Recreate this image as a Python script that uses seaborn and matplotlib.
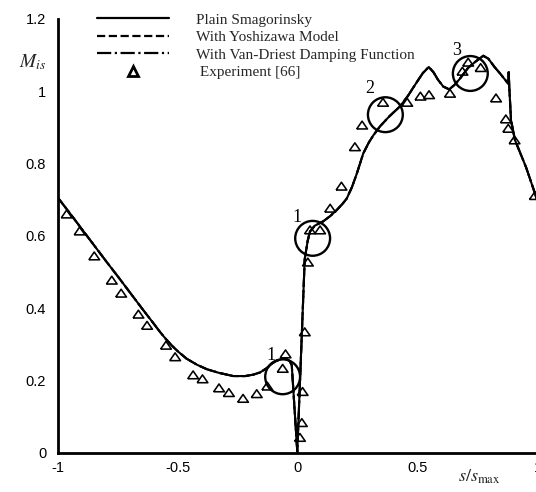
import matplotlib
matplotlib.use("Agg")
import matplotlib.pyplot as plt
import numpy as np
import pandas as pd
import seaborn as sns
from matplotlib.lines import Line2D

# ---- data ----
curve_s = [-1.0, -0.95, -0.9, -0.85, -0.8, -0.75, -0.7, -0.65, -0.6, -0.575, -0.55, -0.525,
           -0.5, -0.464, -0.42, -0.38, -0.33, -0.27, -0.22, -0.186, -0.158, -0.13, -0.11,
           -0.09, -0.07, -0.05, -0.035, -0.026, -0.003, 0.028, 0.04, 0.05, 0.07, 0.105,
           0.135, 0.161, 0.185, 0.203, 0.225, 0.245, 0.272, 0.295, 0.314, 0.342, 0.38,
           0.425, 0.458, 0.49, 0.52, 0.545, 0.565, 0.583, 0.605, 0.63, 0.653, 0.675, 0.708,
           0.738, 0.772, 0.793, 0.82, 0.842, 0.866, 0.876, 0.878, 0.880, 0.8875, 0.904,
           0.95, 0.9875, 1.0]
curve_m = [0.705, 0.662, 0.618, 0.574, 0.530, 0.487, 0.443, 0.399, 0.356, 0.334, 0.314, 0.296,
           0.280, 0.260, 0.243, 0.231, 0.221, 0.212, 0.212, 0.216, 0.222, 0.234, 0.246,
           0.254, 0.259, 0.260, 0.254, 0.242, 0.003, 0.535, 0.585, 0.612, 0.628, 0.640,
           0.655, 0.671, 0.688, 0.703, 0.735, 0.772, 0.828, 0.858, 0.878, 0.903, 0.930,
           0.958, 0.987, 1.020, 1.050, 1.067, 1.052, 1.032, 1.013, 1.005, 1.018, 1.035, 1.064,
           1.081, 1.098, 1.090, 1.066, 1.049, 1.029, 1.021, 1.053, 1.016, 0.920, 0.865,
           0.790, 0.717, 0.690]

exp_s = [-0.964, -0.910, -0.849, -0.776, -0.737, -0.665, -0.629, -0.550, -0.512, -0.437,
         -0.398, -0.329, -0.288, -0.229, -0.172, -0.128, -0.064, -0.052, 0.008, 0.016,
         0.019, 0.028, 0.041, 0.050, 0.092, 0.134, 0.181, 0.237, 0.267, 0.354, 0.455,
         0.510, 0.546, 0.633, 0.685, 0.709, 0.761, 0.825, 0.866, 0.876, 0.902, 0.987]
exp_m = [0.660, 0.613, 0.544, 0.477, 0.441, 0.383, 0.352, 0.297, 0.265, 0.215,
         0.204, 0.179, 0.166, 0.150, 0.163, 0.184, 0.233, 0.273, 0.042, 0.083,
         0.169, 0.334, 0.527, 0.616, 0.616, 0.676, 0.737, 0.846, 0.906, 0.969, 0.969,
         0.986, 0.990, 0.994, 1.055, 1.080, 1.065, 0.981, 0.923, 0.897, 0.865, 0.711]

legend_labels = ["Plain Smagorinsky", "With Yoshizawa Model",
                 "With Van-Driest Damping Function", " Experiment [66]"]
x_ticks = [-1, -0.5, 0, 0.5, 1]
x_ticklabels = ["-1", "-0.5", "0", "0.5", "1"]
y_ticks = [0, 0.2, 0.4, 0.6, 0.8, 1.0, 1.2]
y_ticklabels = ["0", "0.2", "0.4", "0.6", "0.8", "1", "1.2"]

circle_s = [-0.064, 0.061, 0.364, 0.718]
circle_m = [0.210, 0.593, 0.935, 1.049]
mark_text = ["1", "1", "2", "3"]
mark_s = [-0.114, -0.003, 0.297, 0.661]
mark_m = [0.270, 0.652, 1.007, 1.113]

# ---- style ----
sns.set_theme(style="white")
plt.rcParams["font.family"] = ["Liberation Sans", "DejaVu Sans"]
plt.rcParams["mathtext.fontset"] = "stix"
plt.rcParams["axes.unicode_minus"] = False

W, H = 536, 492
fig = plt.figure(figsize=(W / 100, H / 100), dpi=100)
ax = fig.add_axes([58 / W, 1 - 452.7 / H, 480 / W, (452.7 - 18.9) / H])

df = pd.DataFrame({"s": curve_s, "M": curve_m})
for ls in ["-", "--", "-."]:
    sns.lineplot(data=df, x="s", y="M", sort=False, estimator=None, color="black",
                 lw=1.5, ls=ls, ax=ax, legend=False, zorder=2)

tri = [(-1, -0.7), (1, -0.7), (0, 0.75), (-1, -0.7)]
sns.scatterplot(x=exp_s, y=exp_m, marker=tri, s=60, facecolor="none",
                edgecolor="black", linewidth=1.15, ax=ax, legend=False, zorder=3)

ax.scatter(circle_s, circle_m, s=630, facecolors="none", edgecolors="black",
           linewidths=1.7, zorder=4, clip_on=False)
for t, xs, ym in zip(mark_text, mark_s, mark_m):
    ax.text(xs, ym, t, fontsize=13, family="Liberation Serif", ha="center",
            va="center", color="black")

ax.set_xlim(-1, 1)
ax.set_ylim(0, 1.2)
ax.set_xticks(x_ticks)
ax.set_xticklabels(x_ticklabels)
ax.set_yticks(y_ticks)
ax.set_yticklabels(y_ticklabels)
ax.set_xlabel("")
ax.set_ylabel("")
for side in ["top", "right"]:
    ax.spines[side].set_visible(False)
for side in ["left", "bottom"]:
    ax.spines[side].set_linewidth(2.0)
    ax.spines[side].set_color("black")
ax.tick_params(direction="inout", length=9, width=1.8, labelsize=10.5,
               colors="black", pad=1.5)
ax.tick_params(axis="y", pad=4)

fig.text(33 / W, 1 - 62 / H, r"$M_{is}$", fontsize=14, ha="center", va="center")
fig.text(479 / W, 1 - 477 / H, r"$s/s_{\max}$", fontsize=13, ha="center", va="center")

handles = [Line2D([], [], color="black", lw=1.6, ls="-"),
           Line2D([], [], color="black", lw=1.6, ls="--"),
           Line2D([], [], color="black", lw=1.6, ls="-."),
           Line2D([], [], ls="none", marker="^", mfc="none", mec="black", mew=2, ms=7)]
ax.legend(handles=handles, labels=legend_labels, loc="upper left",
          bbox_to_anchor=(97 / W, 1 - 13 / H), bbox_transform=fig.transFigure,
          frameon=False, handlelength=4.7, handletextpad=1.8, labelspacing=0.25,
          borderpad=0, borderaxespad=0,
          prop={"family": "Liberation Serif", "size": 11})

fig.savefig("out.png", dpi=100)
